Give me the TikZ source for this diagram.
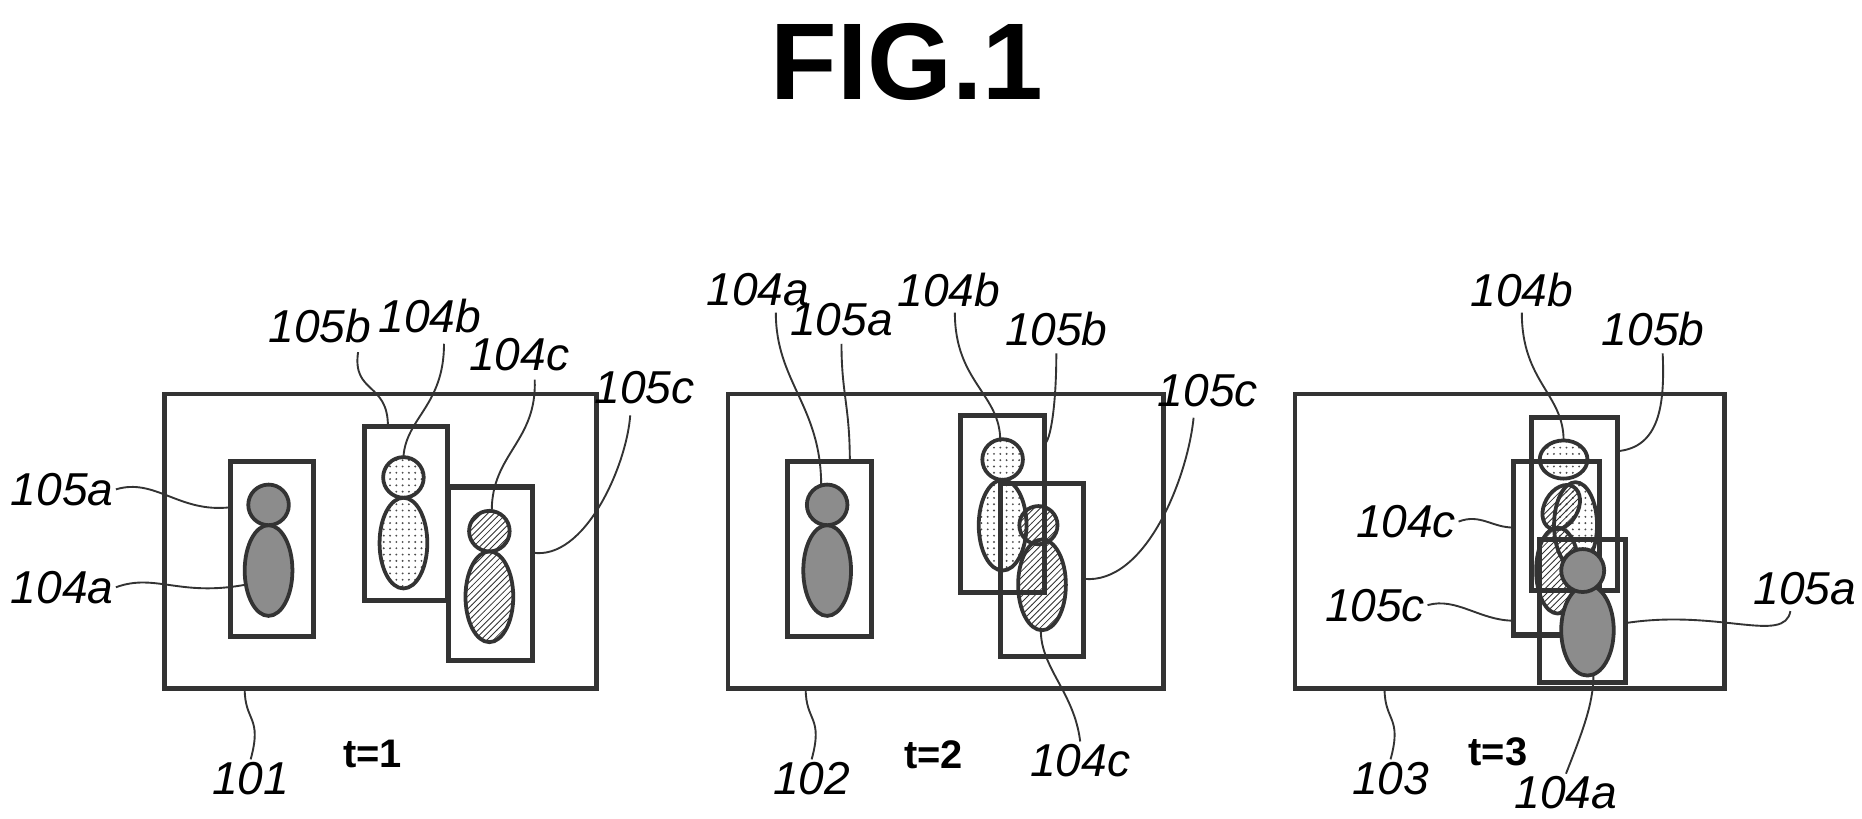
\documentclass[tikz,border=0pt]{standalone}
\usepackage{fontspec}
\setsansfont{Liberation Sans}
\usetikzlibrary{patterns}
\begin{document}
\begin{tikzpicture}[x=0.02cm,y=-0.02cm,
  frame/.style={draw=black!80,line width=2.2pt},
  box/.style={draw=black!80,line width=2.4pt},
  fa/.style={draw=black!80,line width=1.8pt,fill=black!45},
  fb/.style={draw=black!80,line width=1.8pt,pattern=dots,pattern color=black!70},
  fc/.style={draw=black!80,line width=1.8pt,pattern=north east lines,pattern color=black!80},
  lead/.style={draw=black!80,line width=0.9pt},
  lab/.style={font=\sffamily\itshape\fontsize{22}{22}\selectfont,inner sep=1pt},
  tl/.style={font=\sffamily\bfseries\fontsize{19}{19}\selectfont}]
\useasboundingbox (0,0) rectangle (1560,686);
\node[font=\sffamily\bfseries\fontsize{52}{52}\selectfont] (title) at (760,52) {FIG.1};
% ---------- panel 1
\draw[frame] (138,330) rectangle (500,577);
\coordinate (f1b) at (205,577);
\draw[box] (193,387) rectangle (263,533);
\draw[fa] (225,478) ellipse (20 and 38);
\draw[fa] (225,423) circle (17);
\draw[box] (305,357) rectangle (375,503);
\draw[fb] (338,455) ellipse (20 and 38);
\draw[fb] (338,400) circle (17);
\fill[white] (376,408) rectangle (446,553);
\draw[box] (376,408) rectangle (446,553);
\draw[fc] (410,500) ellipse (20 and 38);
\draw[fc] (410,445) circle (17);
\node[lab] (l105a1) at (52,410) {105a};
\node[lab] (l104a1) at (52,492) {104a};
\node[lab] (l105b1) at (268,273) {105b};
\node[lab] (l104b1) at (360,265) {104b};
\node[lab] (l104c1) at (435,297) {104c};
\node[lab] (l105c1) at (540,325) {105c};
\node[lab] (l1011) at (210,652) {101};
\node[tl] (t1) at (312,632) {t=1};
\draw[lead] (l105a1.east) .. controls (130,400) and (150,430) .. (193,425);
\draw[lead] (l104a1.east) .. controls (130,480) and (150,500) .. (205,490);
\draw[lead] (300,295) .. controls (295,330) and (325,320) .. (325,357);
\draw[lead] (372,288) .. controls (372,340) and (340,350) .. (338,383);
\draw[lead] (448,318) .. controls (450,370) and (412,380) .. (412,428);
\draw[lead] (528,348) .. controls (525,390) and (490,470) .. (446,463);
\draw[lead] (l1011.north) .. controls (220,600) and (205,605) .. (f1b);
% ---------- panel 2
\draw[frame] (610,330) rectangle (975,577);
\draw[box] (660,387) rectangle (730,533);
\draw[fa] (693,478) ellipse (20 and 38);
\draw[fa] (693,423) circle (17);
\draw[box] (805,348) rectangle (875,496);
\draw[fb] (840,440) ellipse (20 and 38);
\draw[fb] (840,385) circle (17);
\draw[box] (838,405) rectangle (908,550);
\draw[fc] (873,490) ellipse (20 and 38);
\draw[fc] (870,440) circle (16);
\node[lab] (l104a2) at (635,243) {104a};
\node[lab] (l105a2) at (705,268) {105a};
\node[lab] (l104b2) at (795,243) {104b};
\node[lab] (l105b2) at (885,276) {105b};
\node[lab] (l105c2) at (1012,327) {105c};
\node[lab] (l104c2) at (905,637) {104c};
\node[lab] (l1022) at (680,652) {102};
\node[tl] (t2) at (782,632) {t=2};
\draw[lead] (650,262) .. controls (650,320) and (688,340) .. (688,407);
\draw[lead] (705,288) .. controls (705,330) and (712,340) .. (712,387);
\draw[lead] (800,262) .. controls (800,320) and (838,330) .. (838,369);
\draw[lead] (885,296) .. controls (885,340) and (880,370) .. (875,372);
\draw[lead] (1000,350) .. controls (995,400) and (960,490) .. (908,485);
\draw[lead] (l104c2.north) .. controls (900,580) and (872,560) .. (872,528);
\draw[lead] (l1022.north) .. controls (690,600) and (675,605) .. (675,577);
% ---------- panel 3
\draw[frame] (1085,330) rectangle (1445,577);
\draw[box] (1283,350) rectangle (1355,495);
\draw[fb] (1320,440) ellipse (18 and 36);
\draw[fb] (1310,385) ellipse (20 and 16);
\draw[box] (1268,387) rectangle (1340,532);
\draw[fc,rotate around={-30:(1308,425)}] (1308,425) ellipse (14 and 20);
\draw[fc] (1305,478) ellipse (18 and 36);
\draw[box] (1290,452) rectangle (1362,572);
\draw[fa] (1330,528) ellipse (22 and 38);
\draw[fa] (1326,478) circle (18);
\node[lab] (l104b3) at (1275,243) {104b};
\node[lab] (l105b3) at (1385,276) {105b};
\node[lab] (l104c3) at (1178,437) {104c};
\node[lab] (l105c3) at (1152,507) {105c};
\node[lab] (l105a3) at (1512,493) {105a};
\node[lab] (l104a3) at (1312,664) {104a};
\node[lab] (l1033) at (1165,652) {103};
\node[tl] (t3) at (1255,630) {t=3};
\draw[lead] (1275,262) .. controls (1275,320) and (1310,330) .. (1310,369);
\draw[lead] (1393,296) .. controls (1395,340) and (1390,375) .. (1355,378);
\draw[lead] (l104c3.east) .. controls (1240,430) and (1250,442) .. (1268,442);
\draw[lead] (l105c3.east) .. controls (1220,500) and (1240,520) .. (1268,520);
\draw[lead] (1500,512) .. controls (1495,540) and (1440,510) .. (1362,522);
\draw[lead] (l104a3.north) .. controls (1325,615) and (1335,590) .. (1335,566);
\draw[lead] (l1033.north) .. controls (1175,600) and (1160,605) .. (1160,577);
\end{tikzpicture}
\end{document}
